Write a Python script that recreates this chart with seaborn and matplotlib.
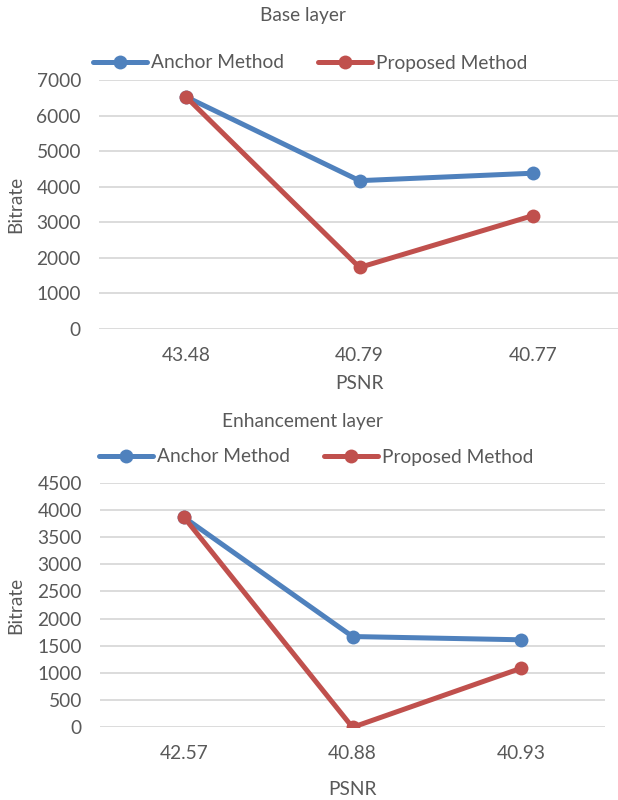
import matplotlib
matplotlib.use("Agg")
import matplotlib.pyplot as plt
import seaborn as sns
import pandas as pd

# ---- data ----
series_names = ["Anchor Method", "Proposed Method"]

base_psnr = ["43.48", "40.79", "40.77"]
base_anchor = [6530, 4170, 4380]
base_proposed = [6530, 1730, 3190]

enh_psnr = ["42.57", "40.88", "40.93"]
enh_anchor = [3860, 1670, 1610]
enh_proposed = [3860, 0, 1085]

base_yticks = [0, 1000, 2000, 3000, 4000, 5000, 6000, 7000]
enh_yticks = [0, 500, 1000, 1500, 2000, 2500, 3000, 3500, 4000, 4500]

# ---- style ----
sns.set_theme(style="white")
plt.rcParams["font.family"] = ["Lato", "DejaVu Sans"]
TXT = "#595959"
GRID = "#D9D9D9"
palette = {"Anchor Method": "#4F81BD", "Proposed Method": "#C0504D"}
FS = 13.8

W, H = 618, 800
fig = plt.figure(figsize=(W / 100, H / 100), dpi=100)


def make_df(psnr, a, p):
    return pd.DataFrame({
        "PSNR": psnr * 2,
        "Bitrate": a + p,
        "Method": [series_names[0]] * len(a) + [series_names[1]] * len(p),
    })


def draw(rect, df, yticks, title, title_xy, legend_xy, xlabel_y):
    l, t, r, b = rect
    ax = fig.add_axes([l / W, 1 - b / H, (r - l) / W, (b - t) / H])
    sns.lineplot(data=df, x="PSNR", y="Bitrate", hue="Method", palette=palette,
                 marker="o", markersize=10, markeredgewidth=0, linewidth=3.6,
                 sort=False, ax=ax)
    ax.set_xlim(-0.5, 2.5)
    ax.set_ylim(yticks[0], yticks[-1])
    ax.set_yticks(yticks)
    ax.grid(axis="y", color=GRID, linewidth=1.3)
    ax.grid(axis="x", visible=False)
    ax.set_axisbelow(True)
    for s in ax.spines.values():
        s.set_visible(False)
    ax.tick_params(axis="both", length=0, labelsize=FS, labelcolor=TXT)
    ax.tick_params(axis="x", pad=13)
    ax.tick_params(axis="y", pad=13)
    ax.set_xlabel("PSNR", fontsize=FS, color=TXT)
    ax.set_ylabel("Bitrate", fontsize=FS, color=TXT)
    ax.xaxis.set_label_coords(0.5, -(xlabel_y - b) / (b - t))
    ax.yaxis.set_label_coords(-(l - 24) / (r - l), 0.5)
    fig.text(title_xy[0] / W, 1 - title_xy[1] / H, title, ha="center",
             va="center", fontsize=FS, color=TXT)
    sns.move_legend(ax, loc="center", bbox_to_anchor=(legend_xy[0] / W, 1 - legend_xy[1] / H),
                    bbox_transform=fig.transFigure, ncol=2, frameon=False, title=None,
                    fontsize=FS, handlelength=2.8, handletextpad=0.2,
                    columnspacing=1.8, labelcolor=TXT)
    return ax


draw((99, 80, 620, 329), make_df(base_psnr, base_anchor, base_proposed),
     base_yticks, "Base layer", (303, 15), (310, 63), 375)
draw((100, 482.7, 605, 727.3), make_df(enh_psnr, enh_anchor, enh_proposed),
     enh_yticks, "Enhancement layer", (302, 421), (316, 457), 781)

fig.savefig("out.png", dpi=100, facecolor="white")
